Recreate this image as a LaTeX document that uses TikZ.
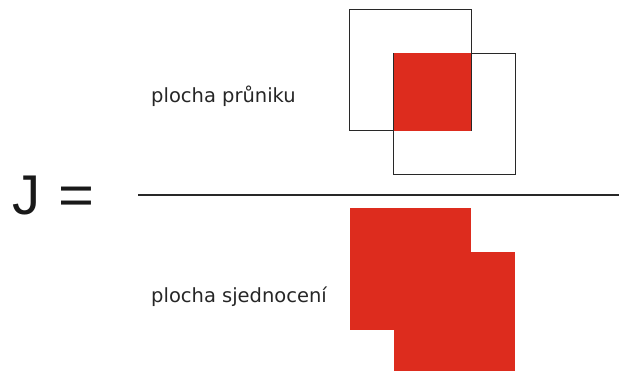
\documentclass[tikz,border=0pt]{standalone}
\usepackage{fontspec}
\setmainfont{DejaVu Sans}
\newfontfamily\jfont{Liberation Sans}
\definecolor{boxred}{RGB}{221,44,30}
\definecolor{edge}{RGB}{40,40,40}
\begin{document}
\begin{tikzpicture}[x=1pt,y=-1pt,
  lbl/.style={anchor=base west,inner sep=0pt,font=\fontsize{19.5}{22}\selectfont,text=black!85},
  big/.style={anchor=base west,inner sep=0pt,font=\jfont\fontsize{56}{60}\selectfont,text=black!90},
  sq/.style={draw=edge,line width=1pt},
  redfill/.style={fill=boxred,draw=none}]
\useasboundingbox (0,0) rectangle (619,371);
\clip (0,0) rectangle (619,371);
% top: intersection
\draw[sq] (349.5,10) rectangle (471,131);
\draw[sq] (393.5,53.5) rectangle (515,175);
\fill[redfill] (393.5,53.5) rectangle (471,131);
% fraction line
\draw[edge,line width=2pt] (138,195) -- (619,195);
% bottom: union
\fill[redfill] (349.5,208.5) rectangle (471,330);
\fill[redfill] (393.5,252.5) rectangle (515,374);
% labels
\node[lbl] (inter) at (151,102.5) {plocha průniku};
\node[lbl] (union) at (151,302.5) {plocha sjednocení};
\node[big] (J) at (12,215) {J};
\node[big] (eq) at (58,215) {\scalebox{1.1}[1]{=}};
\end{tikzpicture}
\end{document}
